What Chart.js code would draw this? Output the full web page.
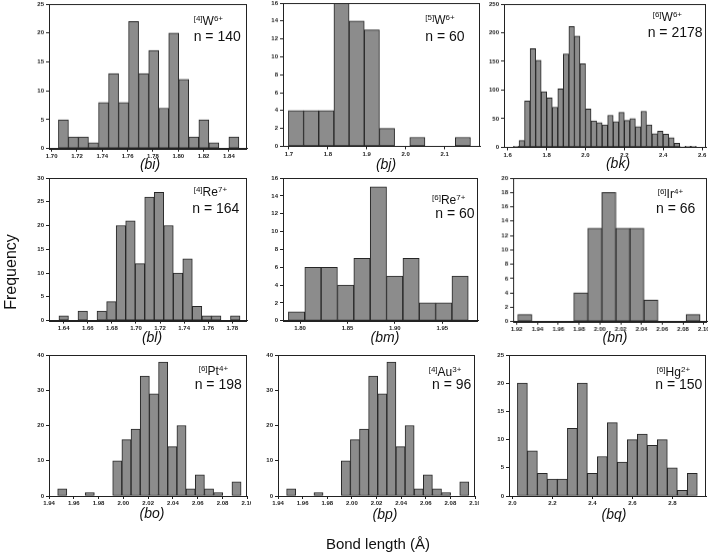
<!DOCTYPE html>
<html><head><meta charset="utf-8">
<script src="https://cdn.jsdelivr.net/npm/chart.js@4.4.1/dist/chart.umd.min.js"></script>
<style>
html,body{margin:0;padding:0;background:#fff;}
body{width:708px;height:553px;position:relative;overflow:hidden;font-family:"Liberation Sans",Arial,sans-serif;color:#111;}
.cv{position:absolute;}
.lab{position:absolute;white-space:nowrap;font-size:12px;line-height:1;}
.lab sup{font-size:8px;line-height:0;vertical-align:4px;}
.nn{position:absolute;white-space:nowrap;font-size:14px;line-height:1;}
.xt{position:absolute;font-style:italic;font-size:14px;line-height:1;transform:translate(-50%,-50%);white-space:nowrap;}
.big{position:absolute;font-size:15px;line-height:1;white-space:nowrap;transform:translate(-50%,-50%);}
</style></head><body>
<script>
// ---- data (bin centre in Å, count) ----
const biX = [1.7093,1.7172,1.7251,1.7330,1.7410,1.7489,1.7568,1.7647,1.7726,1.7806,1.7885,1.7964,1.8043,1.8122,1.8202,1.8281,1.8439];
const biY = [5,2,2,1,8,13,8,22,13,17,7,20,12,2,5,1,2];
const bjX = [1.718,1.757,1.796,1.835,1.874,1.913,1.952,2.030,2.147];
const bjY = [4,4,4,17,14,13,2,1,1];
const bkX = [1.6440,1.6725,1.7010,1.7295,1.7580,1.7865,1.8150,1.8435,1.8720,1.9005,1.9290,1.9575,1.9860,2.0145,2.0430,2.0715,2.1000,2.1285,2.1570,2.1855,2.2140,2.2425,2.2710,2.2995,2.3280,2.3565,2.3850,2.4135,2.4420,2.4705,2.4990,2.5275,2.5560];
const bkY = [2,12,81,172,152,97,86,70,102,163,211,194,146,67,46,43,39,56,45,61,47,50,36,63,39,24,28,23,17,7,1,2,2];
const blX = [1.6400,1.6558,1.6716,1.6796,1.6875,1.6954,1.7033,1.7112,1.7191,1.7270,1.7349,1.7428,1.7507,1.7587,1.7666,1.7824];
const blY = [1,2,2,4,20,21,12,26,27,20,10,13,3,1,1,1];
const bmX = [1.7963,1.8136,1.8308,1.8481,1.8653,1.8826,1.8998,1.9171,1.9343,1.9516,1.9688];
const bmY = [1,6,6,4,7,15,5,7,2,2,5];
const bnX = [1.9277,1.9817,1.9952,2.0087,2.0222,2.0357,2.0492,2.0897];
const bnY = [1,4,13,18,13,13,3,1];
const boX = [1.9467,1.9689,1.9911,1.9985,2.0059,2.0133,2.0207,2.0281,2.0355,2.0429,2.0503,2.0577,2.0651,2.0725,2.0873];
const boY = [2,1,10,16,19,34,29,38,14,20,2,6,2,1,4];
const bpX = [1.9467,1.9689,1.9911,1.9985,2.0059,2.0133,2.0207,2.0281,2.0355,2.0429,2.0503,2.0577,2.0651,2.0725,2.0873];
const bpY = [2,1,10,16,19,34,29,38,14,20,2,6,2,1,4];
const bqX = [2.05,2.10,2.15,2.20,2.25,2.30,2.35,2.40,2.45,2.50,2.55,2.60,2.65,2.70,2.75,2.80,2.85,2.90];
const bqY = [20,8,4,3,3,12,20,4,7,13,6,10,11,9,10,5,1,4];

const panelIds = ['bi','bj','bk','bl','bm','bn','bo','bp','bq'];
const ionPrefix = ['[4]','[5]','[6]','[4]','[6]','[6]','[6]','[4]','[6]'];
const ionName   = ['W','W','W','Re','Re','Ir','Pt','Au','Hg'];
const ionCharge = ['6+','6+','6+','7+','7+','4+','4+','3+','2+'];
const nValues   = [140,60,2178,164,60,66,198,96,150];
const xData = [biX,bjX,bkX,blX,bmX,bnX,boX,bpX,bqX];
const yData = [biY,bjY,bkY,blY,bmY,bnY,boY,bpY,bqY];
// axis ranges / ticks
const xMin  = [1.6979,1.6846,1.581,1.6278,1.782,1.9165,1.936,1.936,1.983];
const xMax  = [1.8545,2.1918,2.62,1.7924,1.988,2.1035,2.096,2.096,2.97];
const xStep = [0.02,0.1,0.2,0.02,0.05,0.02,0.02,0.02,0.2];
const xDec  = [2,1,1,2,2,2,2,2,1];
const yMax  = [25,16,250,30,16,20,40,40,25];
const yStep = [5,2,50,5,2,2,10,10,5];

// ---- layout (pixels) ----
const boxes = [
 {L:48.7,R:247,T:4,B:147.7},{L:282.7,R:480,T:3.3,B:145.7},{L:504,R:706,T:4.3,B:146.7},
 {L:48.7,R:247,T:177.7,B:320.3},{L:282.7,R:478,T:177.5,B:320.3},{L:513.3,R:706.7,T:178,B:320.7},
 {L:48.7,R:247,T:355,B:496},{L:278,R:475,T:355,B:496},{L:508.7,R:706,T:355,B:496}
];
const labPos = [[193.7,15.1],[425.3,14.1],[652.7,11.1],[193.7,186.4],[432,194.4],[657.7,188.1],[198.7,364.7],[428.7,366.4],[656.7,366.4]];
const nPos   = [[193.7,28.9],[425.3,29.2],[647.7,24.9],[192.3,201.2],[435.3,206.2],[656,201.2],[194.7,376.9],[432,376.9],[655.3,376.9]];
const tPos   = [[150,164],[386,164],[618,163],[152,337],[385,337],[615,337],[152,513],[385,514],[614,514]];

const FONT = '"Liberation Sans", Arial, sans-serif';
const frame = {id:'frame', afterDatasetsDraw(ch){
  const a = ch.chartArea, c = ch.ctx;
  c.save(); c.strokeStyle = '#222'; c.lineWidth = 1;
  c.strokeRect(Math.round(a.left)+0.5, Math.round(a.top)+0.5, Math.round(a.right-a.left)-1, Math.round(a.bottom-a.top));
  c.restore();
}};

function makePanel(i){
  const b = boxes[i];
  const padL = 26, padT = 6, padR = 4, padB = 13;
  const wrap = document.createElement('div');
  wrap.className = 'cv';
  wrap.style.left = (b.L - padL) + 'px';
  wrap.style.top = (b.T - padT) + 'px';
  wrap.style.width = (b.R - b.L + padL + padR) + 'px';
  wrap.style.height = (b.B - b.T + padT + padB) + 'px';
  const cv = document.createElement('canvas');
  wrap.appendChild(cv);
  document.body.appendChild(wrap);
  const axisGrid = {display:true, drawOnChartArea:false, drawTicks:true, tickLength:3, color:'#222', offset:false};
  const tickFont = {size:6, family:FONT, weight:'bold'};
  new Chart(cv, {
    type:'bar',
    data:{datasets:[{
      data: xData[i].map((x,k)=>({x:x, y:yData[i][k]})),
      backgroundColor:'#8c8c8c', borderColor:'#262626', borderWidth:1, borderSkipped:false,
      barPercentage:1, categoryPercentage:1
    }]},
    options:{
      responsive:true, maintainAspectRatio:false, animation:false,
      layout:{padding:{top:padT, right:padR, left:0, bottom:0}},
      plugins:{legend:{display:false}, tooltip:{enabled:false}},
      scales:{
        x:{type:'linear', min:xMin[i], max:xMax[i], offset:false, grid:axisGrid,
           border:{display:true, color:'#222', width:1},
           ticks:{stepSize:xStep[i], includeBounds:false, autoSkip:false, maxRotation:0, minRotation:0,
                  padding:1, font:tickFont, color:'#222', callback:v=>Number(v).toFixed(xDec[i])},
           afterFit(s){ s.height = padB; s.paddingLeft = 0; s.paddingRight = 0; }},
        y:{type:'linear', min:0, max:yMax[i], grid:axisGrid,
           border:{display:true, color:'#222', width:1},
           ticks:{stepSize:yStep[i], includeBounds:false, autoSkip:false, padding:2, font:tickFont, color:'#222',
                  callback:v=>String(Math.round(v))},
           afterFit(s){ s.width = padL; s.paddingTop = 0; s.paddingBottom = 0; }}
      }
    },
    plugins:[frame]
  });
  const lab = document.createElement('div');
  lab.className = 'lab';
  lab.style.left = labPos[i][0] + 'px'; lab.style.top = labPos[i][1] + 'px';
  lab.innerHTML = '<sup>' + ionPrefix[i] + '</sup>' + ionName[i] + '<sup>' + ionCharge[i] + '</sup>';
  document.body.appendChild(lab);
  const n = document.createElement('div');
  n.className = 'nn';
  n.style.left = nPos[i][0] + 'px'; n.style.top = nPos[i][1] + 'px';
  n.textContent = 'n = ' + nValues[i];
  document.body.appendChild(n);
  const t = document.createElement('div');
  t.className = 'xt';
  t.style.left = tPos[i][0] + 'px'; t.style.top = tPos[i][1] + 'px';
  t.textContent = '(' + panelIds[i] + ')';
  document.body.appendChild(t);
}
for (let i = 0; i < 9; i++) makePanel(i);

const fy = document.createElement('div');
fy.className = 'big';
fy.style.fontSize = '16px';
fy.style.left = '11px'; fy.style.top = '272px';
fy.style.transform = 'translate(-50%,-50%) rotate(-90deg)';
fy.textContent = 'Frequency';
document.body.appendChild(fy);
const fx = document.createElement('div');
fx.className = 'big';
fx.style.left = '378px'; fx.style.top = '543px';
fx.textContent = 'Bond length (Å)';
document.body.appendChild(fx);
</script>
</body></html>
